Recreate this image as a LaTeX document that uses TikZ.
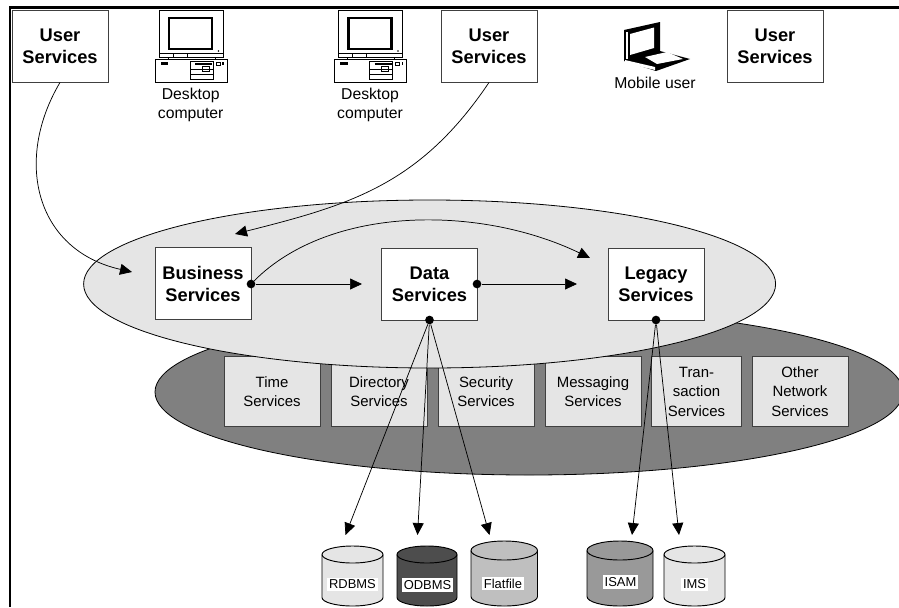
\documentclass[tikz,border=0pt]{standalone}
\usepackage{fontspec}
\setmainfont{Liberation Sans}
\usetikzlibrary{arrows.meta,shapes.geometric}

\definecolor{lG}{HTML}{E5E5E5}
\definecolor{mG}{HTML}{BFBFBF}
\definecolor{iG}{HTML}{999999}
\definecolor{dG}{HTML}{808080}
\definecolor{oG}{HTML}{4D4D4D}

\tikzstyle{bS}=[draw=black!75,fill=white,line width=0.7pt,inner sep=0pt,minimum width=72pt,minimum height=54pt,align=center,font=\fontsize{13.7}{16.5}\selectfont\bfseries]
\tikzstyle{sS}=[draw=black!75,fill=lG,line width=0.7pt,inner sep=0pt,minimum width=72pt,minimum height=53pt,align=center,font=\fontsize{11.2}{14.6}\selectfont]
\tikzstyle{tS}=[sS,minimum width=67pt]
\tikzstyle{lS}=[inner sep=0pt,align=center,font=\fontsize{11.8}{14.2}\selectfont]
\tikzstyle{dS}=[circle,fill=black,minimum size=6.5pt,inner sep=0pt]
\tikzstyle{eS}=[line width=0.55pt,-{Triangle[length=9pt,width=8.25pt]}]
\tikzstyle{cS}=[draw=black,line width=0.7pt]
\tikzstyle{cL}=[fill=white,inner sep=1.5pt,font=\fontsize{9.7}{11}\selectfont]

% left, right, top, end radius, colour
\newcommand{\drum}[5]{
    \pgfmathsetmacro{\rX}{(#2-#1)/2}
    \draw[cS,fill=#5] (#1,#3+#4) -- (#1,606-#4) arc[start angle=180,end angle=0,x radius=\rX,y radius=#4]
        -- (#2,#3+#4) arc[start angle=0,end angle=-180,x radius=\rX,y radius=#4] -- cycle;
    \draw[cS] (#1,#3+#4) arc[start angle=180,end angle=0,x radius=\rX,y radius=#4];
}

\tikzset{
  desktop/.pic={
    \draw[line width=0.6pt,fill=white] (4,0) rectangle (68,47);
    \draw[line width=2.2pt] (14,8) rectangle (57,39);
    \draw[line width=0.5pt] (4,43) -- (68,43) (18,43) -- (18,47) (32,43) -- (32,47);
    \fill (63.5,41) circle (0.7pt);
    \draw[line width=0.5pt] (13,47) rectangle (60,49);
    \draw[line width=0.6pt,fill=white] (0,49) rectangle (72,72);
    \fill (5.7,52.3) rectangle (13,54.7);
    \draw[line width=0.5pt] (35,51) rectangle (58,69) (35,59.3) -- (58,59.3) (35,64) -- (58,64);
    \draw[line width=1pt] (40,54) -- (57,54);
    \draw[line width=0.5pt] (47,56.7) rectangle (54,61.7);
    \draw[line width=0.5pt] (61,52) rectangle (65,55);
    \fill (67,52) rectangle (68.5,55);
  },
  laptop/.pic={
    \fill (14,15) -- (50,7) -- (50,36) -- (80,44) -- (46,56) -- (14,46) -- cycle;
    \fill[white] (16,17) -- (18,17) -- (18,44) -- (16,44) -- cycle;
    \fill[white] (20,19) -- (44,12.5) -- (44,33) -- (20,40) -- cycle;
    \fill[white] (35,42) -- (57,37) -- (73,44) -- (47,49) -- cycle;
    \fill[white] (15,45) -- (45,52) -- (45,55) -- (15,48) -- cycle;
  }
}

\begin{document}
\begin{tikzpicture}[x=0.75pt,y=-0.75pt]
                \useasboundingbox (0,0) rectangle (899,607);
                % frame
                \coordinate (f0) at (10,607);
                \coordinate (f1) at (10,7.5);
                \coordinate (f2) at (899,7.5);
                \draw[line width=1.9pt] (f0) -- (f1) -- (f2);
                % network layer
                \draw (529,392) node[ellipse,draw=black,fill=dG,line width=0.6pt,minimum width=561pt,minimum height=124.5pt,inner sep=0pt] (net) {};
                \draw (272,391.5) node[sS] (s0) {Time\\Services};
                \draw (379,391.5) node[sS] (s1) {Directory\\Services};
                \draw (486,391.5) node[sS] (s2) {Security\\Services};
                \draw (593,391.5) node[sS] (s3) {Messaging\\Services};
                \draw (696.5,391.5) node[tS] (s4) {Tran-\\saction\\Services};
                \draw (800,391.5) node[sS] (s5) {Other\\Network\\Services};
                % application layer
                \draw (429.6,284) node[ellipse,draw=black,fill=lG,line width=0.6pt,minimum width=519pt,minimum height=126pt,inner sep=0pt] (app) {};
                \draw (60,46) node[bS] (u0) {User\\Services};
                \draw (489,46) node[bS] (u1) {User\\Services};
                \draw (775,46) node[bS] (u2) {User\\Services};
                \draw (203,283.5) node[bS] (b0) {Business\\Services};
                \draw (429.5,284) node[bS] (b1) {Data\\Services};
                \draw (656,284) node[bS] (b2) {Legacy\\Services};
                %clients
                \path (155,10) pic {desktop};
                \path (334.5,10) pic {desktop};
                \path (610,15) pic {laptop};
                \draw (190.7,104.5) node[lS] (l0) {Desktop\\computer};
                \draw (370,104.5) node[lS] (l1) {Desktop\\computer};
                \draw (655,83) node[lS] (l2) {Mobile user};
                % stores
                \drum{322}{383}{546}{8.5}{lG}
                \drum{397}{457}{546}{8.5}{oG}
                \drum{471}{537.5}{541}{9.5}{mG}
                \drum{587}{653}{541}{9.5}{iG}
                \drum{664}{725}{546}{8.5}{lG}
                \draw (352.5,584.5) node[cL] (r0) {RDBMS};
                \draw (427.5,585) node[cL] (r1) {ODBMS};
                \draw (503,583.5) node[cL] (r2) {Flatfile};
                \draw (620.5,582) node[cL] (r3) {ISAM};
                \draw (694.5,584.5) node[cL] (r4) {IMS};
                % joints and arrow ends
                \draw (251,284) node[dS] (d0) {};
                \draw (477,284) node[dS] (d1) {};
                \draw (429.5,320) node[dS] (d2) {};
                \draw (656,320) node[dS] (d3) {};
                \coordinate (t0) at (132,272);
                \coordinate (t1) at (235,234);
                \coordinate (t2) at (362,284);
                \coordinate (t3) at (577,284);
                \coordinate (t4) at (590,258);
                \coordinate (t5) at (345.5,535);
                \coordinate (t6) at (417.5,535);
                \coordinate (t7) at (489.5,535);
                \coordinate (t8) at (632,535);
                \coordinate (t9) at (679,535);
                \draw[eS] (u0.south) .. controls (14,160) and (35,250) .. (t0);
                \draw[eS] (u1.south) .. controls (420,185) and (350,205) .. (t1);
                \draw[eS] (d0) .. controls (330,205) and (480,205) .. (t4);
                \path
                    (d0) edge[eS] (t2)
                    (d1) edge[eS] (t3)
                    (d2) edge[eS] (t5)
                    (d2) edge[eS] (t6)
                    (d2) edge[eS] (t7)
                    (d3) edge[eS] (t8)
                    (d3) edge[eS] (t9)
                ;
        \end{tikzpicture}
\end{document}
